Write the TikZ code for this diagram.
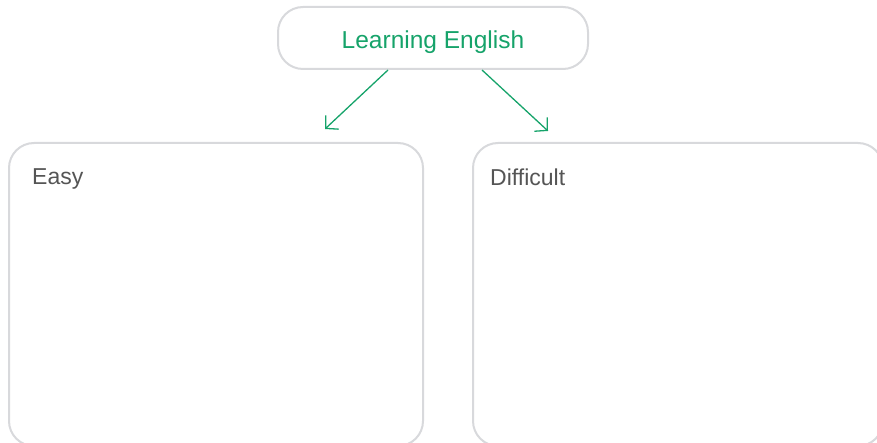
\documentclass[tikz,border=0pt]{standalone}
\usepackage{fontspec}
\setmainfont{Liberation Sans}
\usetikzlibrary{arrows.meta,calc}
\definecolor{lgreen}{RGB}{22,163,106}
\definecolor{lgrey}{RGB}{216,217,220}
\definecolor{tgrey}{RGB}{85,85,85}
\tikzset{
  box/.style={draw=lgrey, line width=2pt, rounded corners=25pt, fill=white, inner sep=0pt},
  conn/.style={draw=lgreen, line width=1.3pt, -{Straight Barb[length=9pt,width=19pt,line width=1.3pt]}},
  lbl/.style={anchor=base west, text=tgrey, font=\fontsize{23}{27}\selectfont, inner sep=0pt}
}
\begin{document}
\begin{tikzpicture}[x=1pt,y=-1pt]
\useasboundingbox (0,0) rectangle (877,443);
\node[box, minimum width=310pt, minimum height=62pt, text=lgreen, text height=22pt, text depth=0pt, font=\fontsize{24.5}{28}\selectfont] (top) at (433,38) {Learning English};
\node[box, minimum width=414pt, minimum height=303pt] (easy) at (216,294.5) {};
\node[box, minimum width=410pt, minimum height=303pt] (diff) at (678,294.5) {};
\node[lbl] (easyl) at (32,185) {Easy};
\node[lbl] (diffl) at (490,186) {Difficult};
\coordinate (la) at (325,129);
\coordinate (ra) at (548,131);
\draw[conn] ($(top.south)+(-45,0)$) -- (la);
\draw[conn] ($(top.south)+(49,0)$) -- (ra);
\end{tikzpicture}
\end{document}
